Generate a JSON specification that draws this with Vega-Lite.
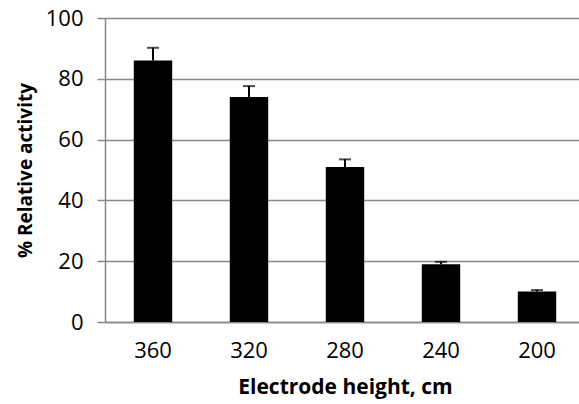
{
  "$schema": "https://vega.github.io/schema/vega-lite/v6.json",
  "width": 480,
  "height": 304,
  "autosize": "none",
  "padding": {"left": 105, "top": 18, "right": 0, "bottom": 82},
  "background": "white",
  "data": {
    "values": [
      {"height": "360", "activity": 86, "upper": 90.2},
      {"height": "320", "activity": 74, "upper": 77.6},
      {"height": "280", "activity": 51, "upper": 53.5},
      {"height": "240", "activity": 19, "upper": 19.8},
      {"height": "200", "activity": 10, "upper": 10.5}
    ]
  },
  "config": {
    "view": {"stroke": null},
    "font": "Open Sans",
    "axis": {
      "labelFont": "Open Sans",
      "titleFont": "Open Sans",
      "labelFontSize": 22,
      "titleFontSize": 21,
      "labelColor": "black",
      "titleColor": "black",
      "titleFontWeight": "bold",
      "domainColor": "#888888",
      "tickColor": "#888888",
      "gridColor": "#888888"
    }
  },
  "encoding": {
    "x": {
      "field": "height",
      "type": "nominal",
      "sort": null,
      "title": "Electrode height, cm",
      "scale": {"paddingInner": 0.6, "paddingOuter": 0.3},
      "axis": {"labelAngle": 0, "ticks": false, "labelPadding": 18, "titlePadding": 15, "domainWidth": 1.5}
    }
  },
  "layer": [
    {
      "mark": {"type": "bar", "color": "black"},
      "encoding": {
        "y": {
          "field": "activity",
          "type": "quantitative",
          "title": "% Relative activity",
          "scale": {"domain": [0, 100]},
          "axis": {"values": [0, 20, 40, 60, 80, 100], "tickSize": 8, "labelPadding": 14, "titlePadding": 10, "titleFontSize": 19, "gridWidth": 1.5, "domainWidth": 1.5, "tickWidth": 1.5}
        }
      }
    },
    {
      "mark": {"type": "rule", "color": "black", "strokeWidth": 2},
      "encoding": {
        "y": {"field": "activity", "type": "quantitative"},
        "y2": {"field": "upper"}
      }
    },
    {
      "mark": {"type": "tick", "color": "black", "size": 12, "thickness": 2},
      "encoding": {
        "y": {"field": "upper", "type": "quantitative"}
      }
    }
  ]
}
